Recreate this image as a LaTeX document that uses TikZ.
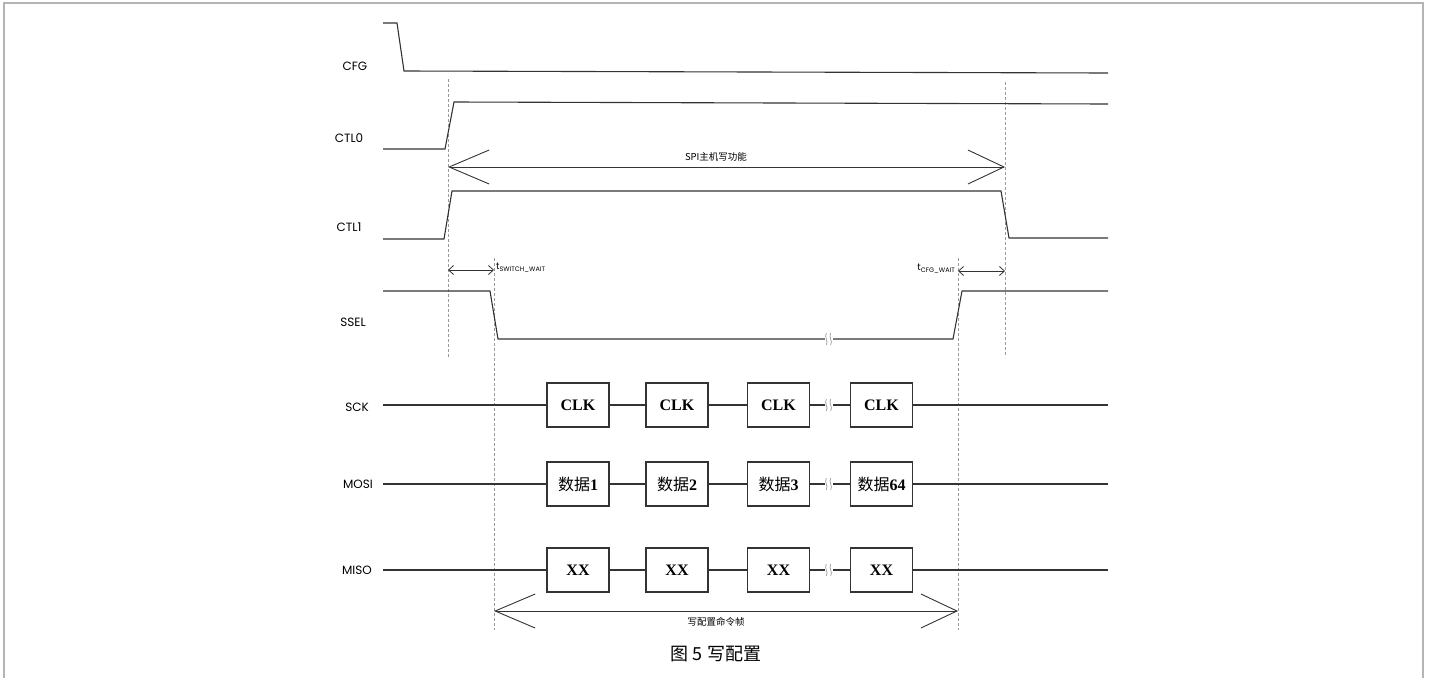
\documentclass[tikz,border=0pt]{standalone}
\usepackage{fontspec}
\setmainfont{Liberation Serif}
\newfontfamily\labf{Poppins}
\newfontfamily\cjk{Noto Sans CJK SC}
\usetikzlibrary{arrows.meta}
\definecolor{wave}{HTML}{333333}
\definecolor{framec}{HTML}{B4B4B4}
\definecolor{dashc}{HTML}{9A9A9A}
\begin{document}
\begin{tikzpicture}[x=1pt,y=-1pt,
  wav/.style={draw=wave,line width=1.1pt},
  guide/.style={draw=dashc,line width=0.8pt,dash pattern=on 3pt off 2pt},
  sig/.style={font=\labf\fontsize{12}{14}\selectfont,text=black},
  box/.style={draw=wave,line width=1.1pt,minimum width=62pt,minimum height=44pt,inner sep=0pt,font=\fontsize{16}{18}\selectfont\bfseries},
  bigarr/.style={draw=wave,line width=0.9pt,{Straight Barb[length=40pt,width=34pt]}-{Straight Barb[length=36pt,width=34pt]}},
  smallarr/.style={draw=wave,line width=0.8pt,{Straight Barb[length=5pt,width=9pt]}-{Straight Barb[length=5pt,width=9pt]}},
  brk/.style={draw=dashc,line width=0.7pt}
]
\useasboundingbox (0,0) rectangle (1429,678);
\draw[framec,line width=1.6pt] (4,678) -- (4,3) -- (1423,3) -- (1423,678);

% signal labels
\node[sig] (lcfg) at (355,66) {CFG};
\node[sig] (lctl0) at (349,138) {CTL0};
\node[sig] (lctl1) at (349,227) {CTL1};
\node[sig] (lssel) at (353,322) {SSEL};
\node[sig] (lsck) at (357,407) {SCK};
\node[sig] (lmosi) at (358,484) {MOSI};
\node[sig] (lmiso) at (357,570) {MISO};

% guide lines
\draw[guide] (448,79) -- (448,357);
\draw[guide] (1005,82) -- (1005,357);
\draw[guide] (494,258) -- (494,630);
\draw[guide] (958,258) -- (958,630);

% waveforms
\draw[wav] (383,23) -- (397,23) -- (404,71) -- (1108,73);
\draw[wav] (383,149) -- (445,149) -- (454,102) -- (1108,104);
\draw[wav] (383,239) -- (444,239) -- (452,191) -- (1001,191) -- (1009,238) -- (1108,238);
\draw[wav] (383,291) -- (490,291) -- (498,339) -- (953,339) -- (962,291) -- (1108,291);

% SPI arrow
\coordinate (spiL) at (448,167);
\coordinate (spiR) at (1005,167);
\draw[bigarr] (spiL) -- (spiR);
\node[font=\cjk\fontsize{9.5}{11}\selectfont] (spit) at (716,157) {SPI主机写功能};

% t arrows
\coordinate (swL) at (448,270);
\coordinate (swR) at (494,270);
\draw[smallarr] (swL) -- (swR);
\node[anchor=south west,inner sep=0pt,font=\labf\fontsize{9.5}{10}\selectfont] (tsw) at (496,272) {t\raisebox{-1.5pt}{\fontsize{6.5}{7}\selectfont SWITCH\_WAIT}};
\coordinate (cfL) at (958,271);
\coordinate (cfR) at (1005,271);
\draw[smallarr] (cfL) -- (cfR);
\node[anchor=south east,inner sep=0pt,font=\labf\fontsize{9.5}{10}\selectfont] (tcf) at (955,273) {t\raisebox{-1.5pt}{\fontsize{6.5}{7}\selectfont CFG\_WAIT}};

% SCK
\coordinate (sckL) at (383,405);
\coordinate (sckR) at (1108,405);
\node[box] (s1) at (578,405) {CLK};
\node[box] (s2) at (677,405) {CLK};
\node[box] (s3) at (778.5,405) {CLK};
\node[box] (s4) at (881.5,405) {CLK};
\draw[wav] (sckL) -- (s1) -- (s2) -- (s3) -- (s4) -- (sckR);

% MOSI
\coordinate (mosL) at (383,484);
\coordinate (mosR) at (1108,484);
\node[box] (m1) at (578,484) {{\cjk\mdseries 数据}1};
\node[box] (m2) at (677,484) {{\cjk\mdseries 数据}2};
\node[box] (m3) at (778.5,484) {{\cjk\mdseries 数据}3};
\node[box] (m4) at (881.5,484) {{\cjk\mdseries 数据}64};
\draw[wav] (mosL) -- (m1) -- (m2) -- (m3) -- (m4) -- (mosR);

% MISO
\coordinate (misL) at (383,570);
\coordinate (misR) at (1108,570);
\node[box] (x1) at (578,570) {XX};
\node[box] (x2) at (677,570) {XX};
\node[box] (x3) at (778.5,570) {XX};
\node[box] (x4) at (881.5,570) {XX};
\draw[wav] (misL) -- (x1) -- (x2) -- (x3) -- (x4) -- (misR);

% break marks
\foreach \by in {339,405,484,570}{
  \foreach \dx in {-2.2,2.2}{
    \fill[white] (829+\dx-2,\by-5) rectangle (829+\dx+2,\by+5);
  }
}
\foreach \by in {339,405,484,570}{
  \foreach \dx in {-2.2,2.2}{
    \draw[brk] (829+\dx-0.5,\by-6) .. controls (829+\dx-3,\by-2) and (829+\dx+2,\by+2) .. (829+\dx-0.5,\by+6);
  }
}

% frame arrow
\coordinate (fL) at (494,611);
\coordinate (fR) at (958,611);
\draw[bigarr] (fL) -- (fR);
\node[font=\cjk\fontsize{9.5}{11}\selectfont] (ft) at (716,622) {写配置命令帧};

% caption
\node[font=\cjk\fontsize{18}{20}\selectfont] (cap) at (716,654) {图 5 写配置};
\end{tikzpicture}
\end{document}
